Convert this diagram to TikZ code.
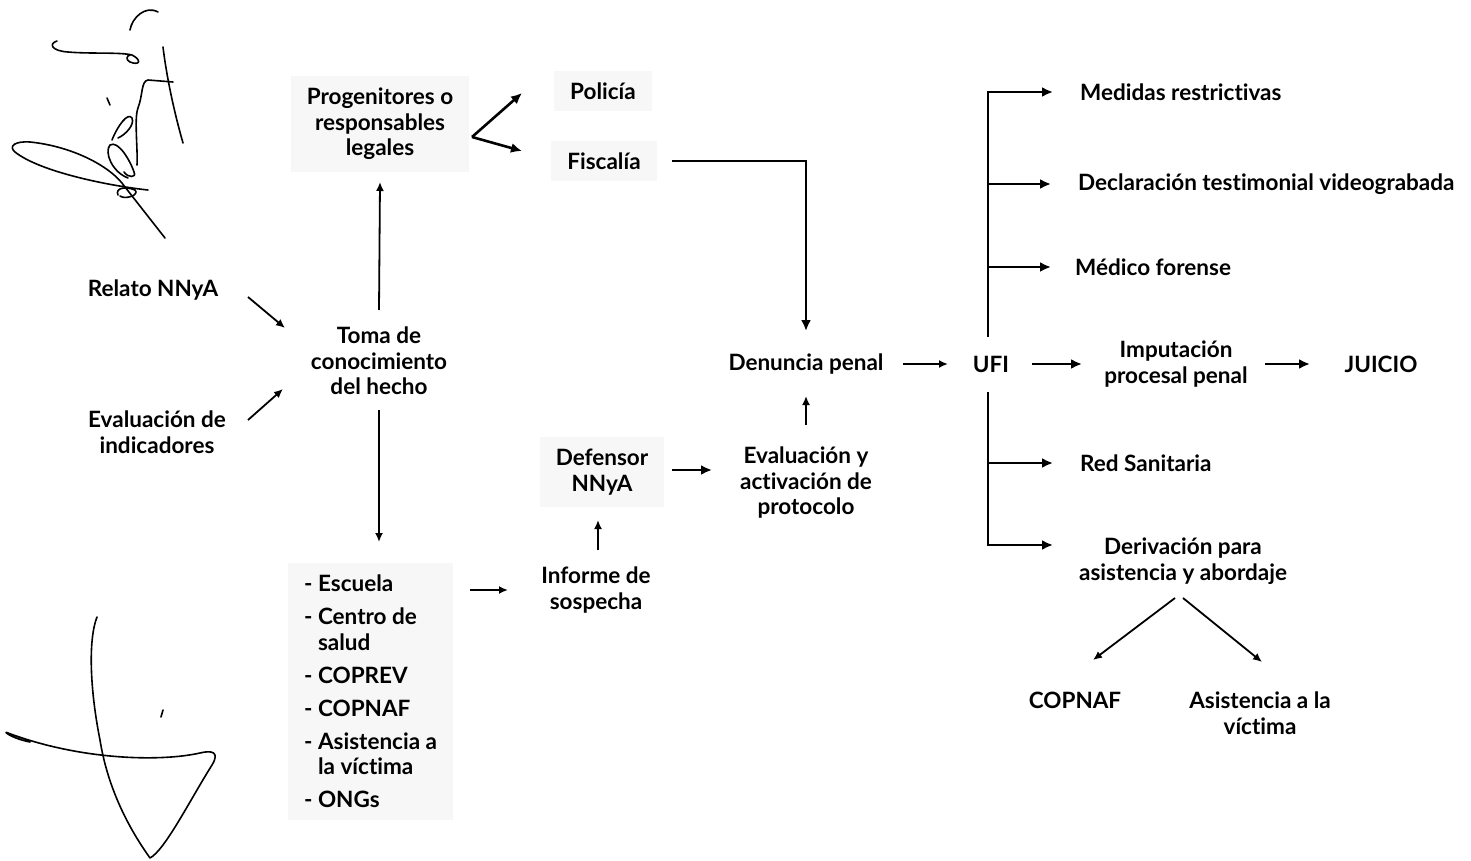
\documentclass[tikz,border=0pt]{standalone}
\usepackage{fontspec}
\setmainfont{Lato}[RawFeature={-liga;-dlig;-calt;-clig;-rlig}]
\usetikzlibrary{arrows.meta,calc}

\tikzset{
  txt/.style={font=\bfseries\fontsize{22.5}{25.5}\selectfont, align=center, inner sep=2pt},
  backdrop/.style={fill=black!3, inner xsep=16pt, inner ysep=12pt},
  flow/.style={line width=2.6pt, -{Latex[length=11pt,width=10pt]}},
  thinflow/.style={line width=1.8pt, -{Latex[length=9pt,width=8pt]}},
  sign/.style={line width=1.6pt, line cap=round, line join=round},
}

\begin{document}
\begin{tikzpicture}[x=1pt,y=-1pt]
    \useasboundingbox (0,0) rectangle (1471,861);

    % firmas
    \draw[sign] (130,30) .. controls (132,18) and (145,5) .. (158,12);
    \draw[sign] (57,41) .. controls (48,44) and (52,51) .. (68,52) .. controls (90,54) and (120,52) .. (132,55) .. controls (142,60) and (140,66) .. (130,62) .. controls (126,60) and (126,56) .. (130,55);
    \draw[sign] (163,47) .. controls (167,80) and (175,115) .. (183,143);
    \draw[sign] (173,82) -- (148,80) .. controls (141,81) and (143,95) .. (138,108) .. controls (134,118) and (138,150) .. (137,165);
    \draw[sign] (107,98) -- (110,105);
    \draw[sign] (112,140) .. controls (118,125) and (128,112) .. (132,118) .. controls (135,125) and (125,135) .. (118,138);
    \draw[sign] (128,178) .. controls (112,172) and (104,152) .. (110,145) .. controls (118,140) and (130,160) .. (134,172) .. controls (137,178) and (128,178) .. (124,172);
    \draw[sign] (118,195) .. controls (115,188) and (125,186) .. (135,190) .. controls (140,195) and (125,200) .. (120,196);
    \draw[sign] (148,190) .. controls (110,186) and (40,172) .. (15,152) .. controls (8,146) and (15,141) .. (30,142) .. controls (70,146) and (110,165) .. (125,187) -- (165,238);
    \draw[sign] (97,617) .. controls (88,640) and (90,690) .. (100,740) .. controls (108,790) and (130,830) .. (150,858) .. controls (165,850) and (190,800) .. (212,765) .. controls (220,752) and (212,750) .. (200,753) .. controls (160,762) and (80,760) .. (8,733) .. controls (2,730) and (10,738) .. (30,742);
    \draw[sign] (163,710) -- (161,717);

    % nodos
    \node[txt] (relato) at (153,290) {Relato NNyA};
    \node[txt] (indic) at (157,432) {Evaluación de\\indicadores};
    \node[txt] (toma) at (379,361) {Toma de\\conocimiento\\del hecho};
    \node[txt, backdrop] (progen) at (380,124) {Progenitores o\\responsables\\legales};
    \node[txt, backdrop] (policia) at (603,91) {Policía};
    \node[txt, backdrop] (fiscalia) at (604,161) {Fiscalía};
    \node[txt] (denuncia) at (806,364) {Denuncia penal};
    \node[txt] (ufi) at (991,364) {UFI};
    \node[txt] (imput) at (1176,364) {Imputación\\procesal penal};
    \node[txt] (juicio) at (1381,364) {JUICIO};
    \node[txt] (protocolo) at (806,483) {Evaluación y\\activación de\\protocolo};
    \node[txt, backdrop] (defensor) at (602,472) {Defensor\\NNyA};
    \node[txt] (informe) at (596,590) {Informe de\\sospecha};
    \node[txt, backdrop, align=left, anchor=north west] (lista) at (288,563)
        {- Escuela\\[7.5pt]
         - Centro de\\ \hphantom{- }salud\\[7.5pt]
         - COPREV\\[7.5pt]
         - COPNAF\\[7.5pt]
         - Asistencia a\\ \hphantom{- }la víctima\\[7.5pt]
         - ONGs};
    \node[txt, anchor=west] (medidas) at (1078,92) {Medidas restrictivas};
    \node[txt, anchor=west] (decl) at (1076,184) {Declaración testimonial videograbada};
    \node[txt, anchor=west] (medico) at (1073,267) {Médico forense};
    \node[txt, anchor=west] (red) at (1078,463) {Red Sanitaria};
    \node[txt] (deriv) at (1183,561) {Derivación para\\asistencia y abordaje};
    \node[txt] (copnaf) at (1075,700) {COPNAF};
    \node[txt] (asist) at (1260,713) {Asistencia a la\\víctima};

    % conexiones
    \draw[thinflow] ([shift={(95,7)}]relato.center) -- ([shift={(-94,-33)}]toma.center);
    \draw[thinflow] ([shift={(91,-12)}]indic.center) -- ([shift={(-96,28)}]toma.center);
    \draw[thinflow] ([yshift=51pt]toma.center) -- ([yshift=-58pt]progen.center);
    \draw[thinflow] ([yshift=-49pt]toma.center) -- ([yshift=-181pt]toma.center);
    \coordinate (fork) at (472,137);
    \draw[flow] (fork) -- ([shift={(-81,2)}]policia.center);
    \draw[flow] (fork) -- ([shift={(-82,-10)}]fiscalia.center);
    \draw[flow] ([xshift=68pt]fiscalia.center) -| ([yshift=33pt]denuncia.center);
    \draw[thinflow] ([xshift=97pt]denuncia.center) -- ([xshift=-43pt]ufi.center);
    \draw[thinflow] ([yshift=58pt]protocolo.center) -- ([yshift=-32pt]denuncia.center);
    \draw[flow] ([shift={(70,-2)}]defensor.center) -- ([shift={(-94,-13)}]protocolo.center);
    \draw[thinflow] ([shift={(2,-40)}]informe.center) -- ([shift={(-4,48)}]defensor.center);
    \draw[thinflow] ([shift={(182,27)}]lista.north west) -- ([xshift=-88pt]informe.center);
    \coordinate (trunk) at ([xshift=-3pt]ufi.center);
    \draw[flow] ([yshift=27pt]trunk) |- ([xshift=-25pt]medidas.west);
    \draw[flow] (trunk |- decl.west) -- ([xshift=-25pt]decl.west);
    \draw[flow] (trunk |- medico.west) -- ([xshift=-22pt]medico.west);
    \draw[flow] ([yshift=-28pt]trunk) |- ([xshift=-25pt]red.west);
    \draw[flow] (trunk |- red.west) |- ($(red.west |- deriv.west)+(-25,-16)$);
    \draw[flow] ([xshift=41pt]ufi.center) -- ([xshift=-94pt]imput.center);
    \draw[flow] ([xshift=89pt]imput.center) -- ([xshift=-71pt]juicio.center);
    \draw[thinflow] ([shift={(-8,37)}]deriv.center) -- ([shift={(18,-40)}]copnaf.center);
    \draw[thinflow] ([shift={(0,37)}]deriv.center) -- ([shift={(2,-51)}]asist.center);
\end{tikzpicture}
\end{document}
